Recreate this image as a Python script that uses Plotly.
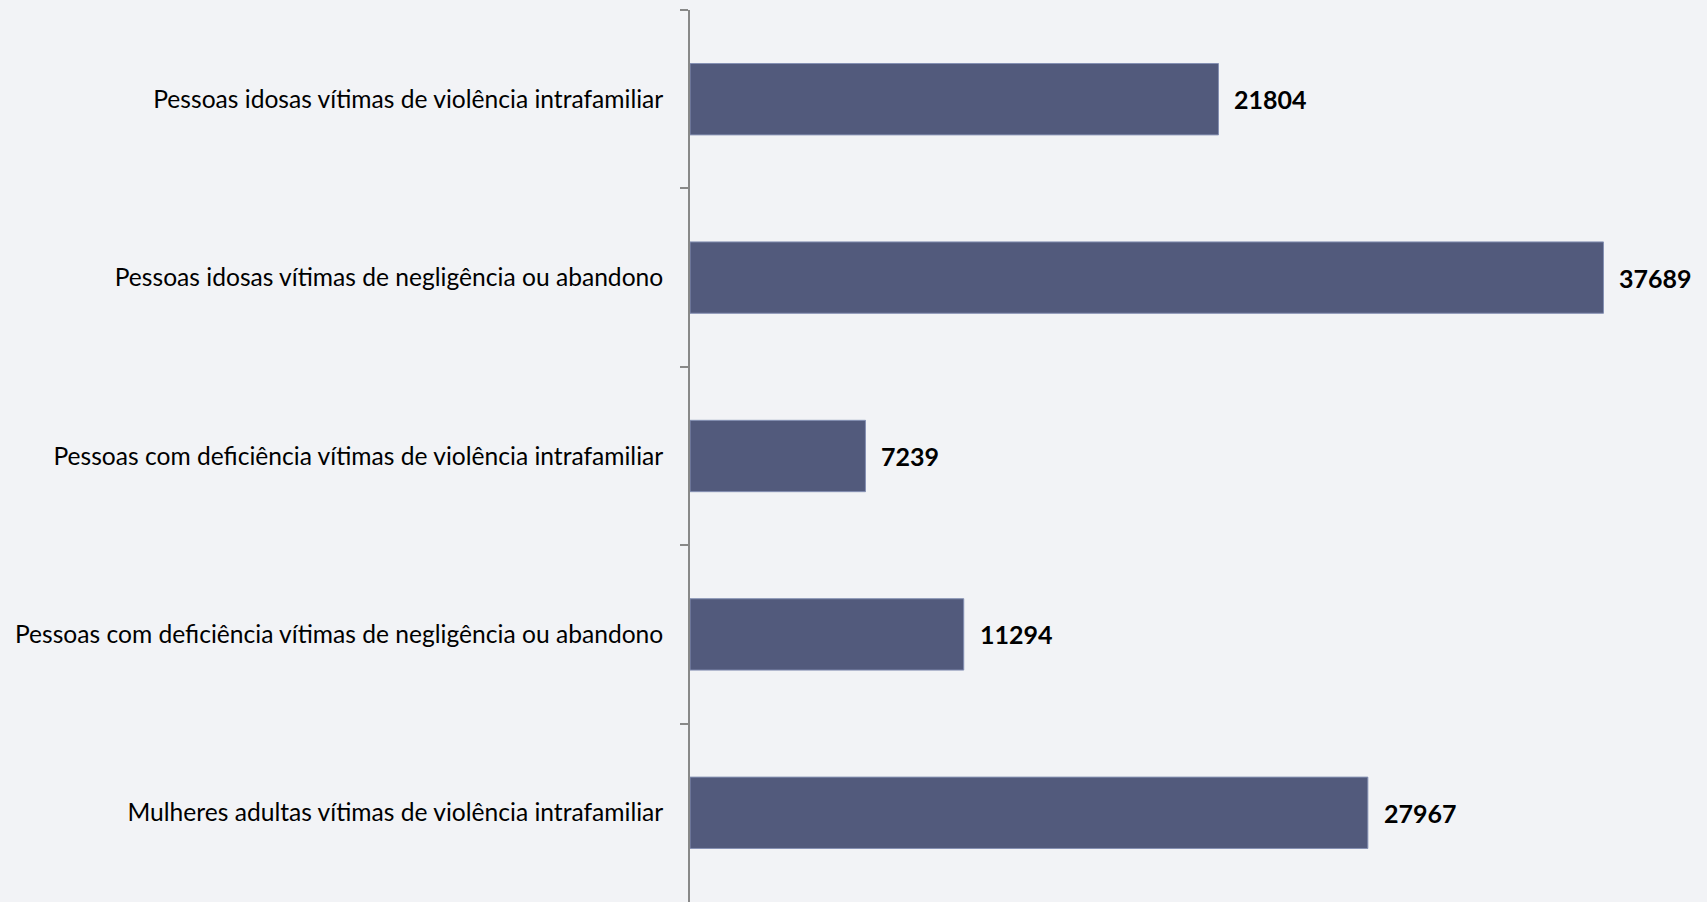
import plotly.graph_objects as go

categories = [
    "Pessoas idosas vítimas de violência intrafamiliar",
    "Pessoas idosas vítimas de negligência ou abandono",
    "Pessoas com deficiência vítimas de violência intrafamiliar",
    "Pessoas com deficiência vítimas de negligência ou abandono",
    "Mulheres adultas vítimas de violência intrafamiliar",
]
values = [21804, 37689, 7239, 11294, 27967]

FONT = "Lato, 'Open Sans', sans-serif"

fig = go.Figure()
fig.add_trace(go.Bar(
    x=values,
    y=categories,
    orientation="h",
    marker=dict(color="#525a7c", line=dict(color="#8590b3", width=1)),
    width=0.4,
    hoverinfo="skip",
))

for c, v in zip(categories, values):
    fig.add_annotation(
        x=v, y=c, xref="x", yref="y",
        text=f"<b>{v}</b>",
        showarrow=False,
        xanchor="left", yanchor="middle",
        xshift=14,
        font=dict(family=FONT, size=25, color="#000000"),
    )

fig.update_layout(
    width=1707, height=902,
    margin=dict(l=690, r=0, t=10, b=0),
    paper_bgcolor="#f2f3f6",
    plot_bgcolor="rgba(0,0,0,0)",
    showlegend=False,
    font=dict(family=FONT, size=24.6, color="#000000"),
    xaxis=dict(
        range=[0, 41960],
        visible=False,
        showgrid=False,
        zeroline=False,
    ),
    yaxis=dict(
        autorange="reversed",
        showline=True,
        linecolor="#888888",
        linewidth=1.6,
        ticks="outside",
        tickson="boundaries",
        ticklen=8,
        tickcolor="#888888",
        tickwidth=1.6,
        ticklabelstandoff=20,
        showgrid=False,
        tickfont=dict(family=FONT, size=24.6, color="#000000"),
    ),
)

fig.write_html(
    "out.html",
    config={"displayModeBar": False},
    post_script="document.body.style.margin='0';document.body.style.padding='0';document.body.style.background='#f2f3f6';",
)
